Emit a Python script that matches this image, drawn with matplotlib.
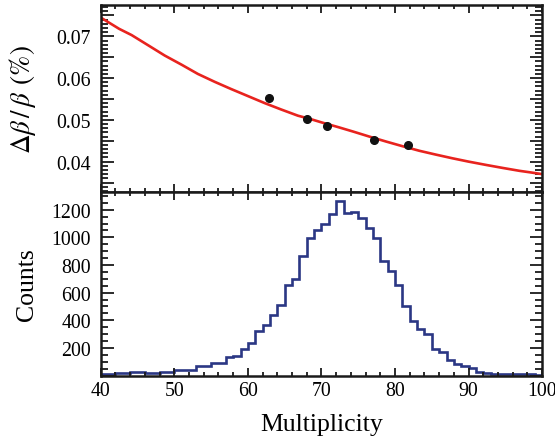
import numpy as np
import matplotlib
matplotlib.use("Agg")
import matplotlib.pyplot as plt
from matplotlib.ticker import MultipleLocator, FuncFormatter

plt.rcParams['font.family'] = ['Liberation Serif', 'DejaVu Serif']
plt.rcParams['mathtext.fontset'] = 'stix'

# ---- data: resolution vs multiplicity ----
point_mult = [62.9, 68.0, 70.75, 77.1, 81.7]
point_res = [0.0552, 0.0502, 0.0486, 0.0452, 0.0441]

# fitted curve
curve_mult = [40, 42.5, 44.2, 46.5, 48.7, 51.0, 53.2, 55.5, 57.7, 60.0, 62.3,
              64.5, 66.8, 68.5, 70.0, 72.2, 74.3, 76.5, 78.8, 81.0, 83.3,
              85.5, 87.8, 90.0, 92.4, 94.6, 96.9, 98.5, 100]
curve_res = [0.0745, 0.0718, 0.0703, 0.0678, 0.0654, 0.0632, 0.0610, 0.0591,
             0.0574, 0.0557, 0.0540, 0.0525, 0.0510, 0.0502, 0.0494, 0.0483,
             0.0472, 0.0460, 0.0448, 0.0437, 0.0426, 0.0417, 0.0408, 0.0400,
             0.0392, 0.0385, 0.0378, 0.0374, 0.0370]

# ---- data: multiplicity histogram (bin width 1, from 40 to 100) ----
bin_edges = list(range(40, 101))
counts = [12, 14, 15, 15, 26, 28, 20, 20, 22, 22,
          37, 38, 40, 68, 72, 92, 90, 132, 142, 192,
          238, 320, 364, 435, 511, 658, 700, 862, 996, 1055,
          1100, 1170, 1262, 1177, 1182, 1143, 1069, 997, 832, 753,
          658, 500, 394, 334, 298, 190, 167, 112, 85, 70,
          56, 28, 18, 14, 12, 12, 10, 8, 8, 6]

W, H = 555, 439
fig = plt.figure(figsize=(W / 100, H / 100), dpi=100)

left = 100.7 / W
width = 441.5 / W
ax1 = fig.add_axes([left, 1 - 192.7 / H, width, (192.7 - 6) / H])
ax2 = fig.add_axes([left, 1 - 376.5 / H, width, (376.5 - 193.0) / H])

spine_lw = 1.8
for ax in (ax1, ax2):
    for s in ax.spines.values():
        s.set_linewidth(spine_lw)
        s.set_color('#1a1a1a')
    ax.set_xlim(40, 100)
    ax.xaxis.set_major_locator(MultipleLocator(10))
    ax.xaxis.set_minor_locator(MultipleLocator(2))
    ax.tick_params(which='both', direction='in', top=True, right=True,
                   width=1.3, colors='#1a1a1a', labelcolor='black', labelsize=14.3)
    ax.tick_params(axis='x', which='major', length=5.5, pad=4)
    ax.tick_params(axis='x', which='minor', length=3)
    ax.tick_params(axis='y', which='major', length=9, pad=7)
    ax.tick_params(axis='y', which='minor', length=5)

# top panel
ax1.plot(curve_mult, curve_res, color='#e8231e', lw=1.9, zorder=2)
ax1.plot(point_mult, point_res, 'o', color='#111111', ms=5.5, zorder=3)
ax1.set_ylim(0.0328, 0.0775)
ax1.yaxis.set_major_locator(MultipleLocator(0.005))
ax1.yaxis.set_minor_locator(MultipleLocator(0.001))
ax1.yaxis.set_major_formatter(FuncFormatter(
    lambda v, p: ('%.2f' % v) if abs(round(v * 100) - v * 100) < 1e-6 else ''))
ax1.tick_params(axis='x', labelbottom=False)
ax1.set_ylabel(r'$\Delta\beta\,/\,\beta\;\,(\%)$', fontsize=19.5)
ax1.yaxis.set_label_coords(-0.143, 0.5)

# bottom panel
ax2.stairs(counts, bin_edges, baseline=None, color='#2b3784', lw=1.9)
ax2.set_ylim(0, 1328)
ax2.yaxis.set_major_locator(MultipleLocator(200))
ax2.yaxis.set_minor_locator(MultipleLocator(50))
ax2.yaxis.set_major_formatter(FuncFormatter(lambda v, p: '%d' % v if v > 0 else ''))
ax2.set_ylabel('Counts', fontsize=18.5)
ax2.yaxis.set_label_coords(-0.143, 0.5)
ax2.set_xlabel('Multiplicity', fontsize=18.5, labelpad=9)

fig.savefig('out.png', dpi=100)
